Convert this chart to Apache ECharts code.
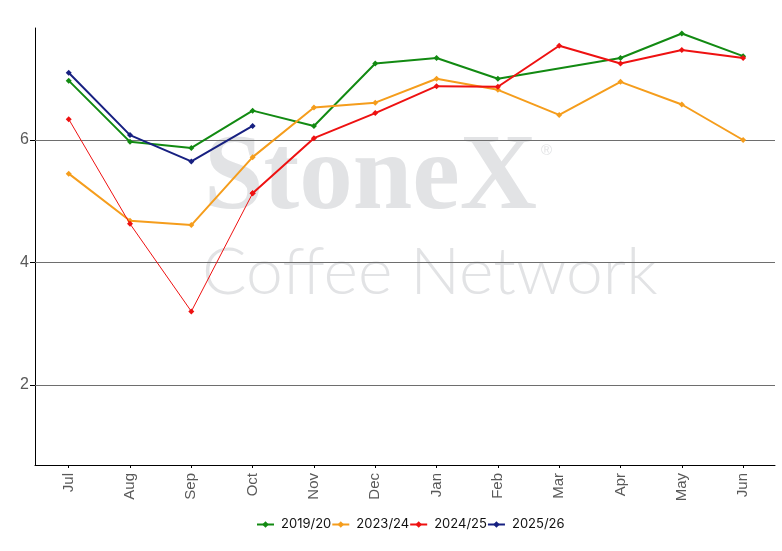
<!DOCTYPE html>
<html>
<head>
<meta charset="utf-8">
<script src="https://cdn.jsdelivr.net/npm/echarts@6/dist/echarts.min.js"></script>
<style>
  html, body { margin: 0; padding: 0; background: #fff; }
  #chart { width: 782px; height: 551px; }
</style>
</head>
<body>
<div id="chart"></div>
<script>
var months = ['Jul', 'Aug', 'Sep', 'Oct', 'Nov', 'Dec', 'Jan', 'Feb', 'Mar', 'Apr', 'May', 'Jun'];
var s2019 = [6.97, 5.97, 5.87, 6.48, 6.23, 7.25, 7.34, 7.00, null, 7.34, 7.74, 7.37];
var s2023 = [5.45, 4.68, 4.61, 5.72, 6.53, 6.61, 7.00, 6.82, 6.41, 6.95, 6.58, 6.00];
var s2024 = [6.34, 4.63, 3.20, 5.13, 6.03, 6.44, 6.88, 6.87, 7.54, 7.25, 7.47, 7.34];
var s2025 = [7.10, 6.08, 5.65, 6.23, null, null, null, null, null, null, null, null];
var yTicks = [2, 4, 6];
var xTicks = months.map(function (m, i) { return i; });

// pairs for the numeric x axis, gaps dropped so the line stays joined
function pairs(arr, from, to) {
  var out = [];
  arr.forEach(function (v, i) {
    if (v != null && i >= from && i <= to) out.push([i, v]);
  });
  return out;
}

function line(name, data, color, width, z) {
  return {
    name: name,
    type: 'line',
    data: data,
    symbol: 'diamond',
    symbolSize: 6,
    showSymbol: true,
    z: z,
    itemStyle: { color: color },
    lineStyle: { color: color, width: width },
    emphasis: { disabled: true }
  };
}

var chart = echarts.init(document.getElementById('chart'));
var series = [
  line('2019/20', pairs(s2019, 0, 11), '#128a12', 2, 3),
  line('2023/24', pairs(s2023, 0, 11), '#f59d1c', 2, 4),
  // red line is drawn thin up to Oct, thicker after
  line('2024/25', pairs(s2024, 0, 3), '#ee1111', 1, 5),
  line('2024/25', pairs(s2024, 3, 11), '#ee1111', 2, 5),
  line('2025/26', pairs(s2025, 0, 11), '#172081', 2, 6)
];
series[0].markLine = {
  silent: true,
  symbol: 'none',
  label: { show: false },
  lineStyle: { color: '#6e6e6e', width: 1, type: 'solid' },
  data: yTicks.map(function (v) { return { yAxis: v }; }),
  z: 1
};

chart.setOption({
  animation: false,
  graphic: [
    {
      type: 'text', left: 204, top: 127, z: -1,
      style: { text: 'StoneX', font: 'bold 107px "Liberation Serif", serif', fill: '#e2e3e5' }
    },
    {
      type: 'text', left: 541, top: 143, z: -1,
      style: { text: '®', font: '15px "Liberation Sans", sans-serif', fill: '#e2e3e5' }
    },
    {
      type: 'text', left: 202, top: 240, z: -1,
      style: { text: 'Coffee Network', font: '300 66px Lato, sans-serif', fill: '#e2e3e5' }
    }
  ],
  legend: {
    bottom: 15,
    left: 251,
    itemGap: 0,
    itemWidth: 17,
    itemHeight: 8,
    textStyle: { color: '#111', fontSize: 13, fontFamily: 'Inter', padding: [0, 0, 0, 2] },
    data: ['2019/20', '2023/24', '2024/25', '2025/26']
  },
  grid: { left: 35, right: 7, top: 28, bottom: 86, containLabel: false },
  xAxis: {
    type: 'value',
    min: -0.55,
    max: 11.52,
    splitLine: { show: false },
    axisLine: { onZero: false, lineStyle: { color: '#000', width: 1 } },
    axisTick: { length: 3, customValues: xTicks, lineStyle: { color: '#000' } },
    axisLabel: {
      customValues: xTicks,
      formatter: function (v) { return months[v]; },
      rotate: 90, color: '#595959', fontSize: 15, fontFamily: 'Arial', margin: 8
    }
  },
  yAxis: {
    type: 'value',
    min: 0.69,
    max: 7.83,
    axisLine: { show: true, onZero: false, lineStyle: { color: '#000', width: 1 } },
    axisTick: { show: true, length: 5, customValues: yTicks, lineStyle: { color: '#000' } },
    axisLabel: { customValues: yTicks, color: '#595959', fontSize: 16, fontFamily: 'Arial', margin: 6 },
    splitLine: { show: false }
  },
  series: series
});
</script>
</body>
</html>
